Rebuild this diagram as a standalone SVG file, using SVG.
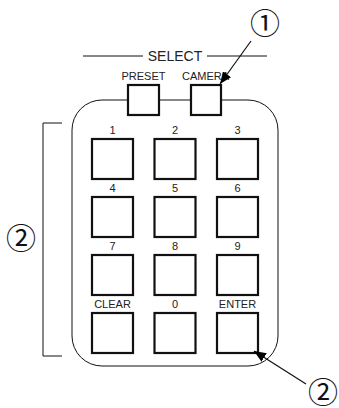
<svg xmlns="http://www.w3.org/2000/svg" width="339" height="408" viewBox="0 0 339 408">
<defs>
<marker id="ah" viewBox="0 0 12 10" refX="12" refY="5" markerWidth="12" markerHeight="10" markerUnits="userSpaceOnUse" orient="auto">
<path d="M0,0 L12,5 L0,10 Z" fill="#000"/>
</marker>
</defs>
<style>
.lbl{font-family:"Liberation Sans",Arial,sans-serif;font-size:11px;fill:#222;text-anchor:middle}
.sel{font-family:"Liberation Sans",Arial,sans-serif;font-size:14px;fill:#222;text-anchor:middle}
.key{fill:#fff;stroke:#111;stroke-width:2.2}
.thin{fill:none;stroke:#111;stroke-width:1}
.circ{font-family:"Noto Sans CJK JP","DejaVu Sans",sans-serif;font-size:30px;fill:#111;text-anchor:middle}
</style>
<rect width="339" height="408" fill="#fff"/>
<g id="panel">
<rect x="72" y="100" width="206" height="266" rx="30" ry="30" class="thin"/>
</g>
<g id="select-header">
<line x1="83" y1="56" x2="143" y2="56" class="thin"/>
<line x1="207" y1="56" x2="267" y2="56" class="thin"/>
<text x="175" y="61" class="sel">SELECT</text>
</g>
<g id="btn-preset">
<text x="143.5" y="80" class="lbl">PRESET</text>
<rect x="128" y="85" width="31" height="30" class="key"/>
</g>
<g id="btn-camera">
<text x="205.5" y="80" class="lbl">CAMERA</text>
<rect x="191" y="85" width="30" height="30" class="key"/>
</g>
<g id="key-1"><text x="112.5" y="134" class="lbl">1</text><rect x="92" y="139" width="41" height="40" class="key"/></g>
<g id="key-2"><text x="175" y="134" class="lbl">2</text><rect x="154.5" y="139" width="41" height="40" class="key"/></g>
<g id="key-3"><text x="237.5" y="134" class="lbl">3</text><rect x="217" y="139" width="41" height="40" class="key"/></g>
<g id="key-4"><text x="112.5" y="192" class="lbl">4</text><rect x="92" y="197" width="41" height="40" class="key"/></g>
<g id="key-5"><text x="175" y="192" class="lbl">5</text><rect x="154.5" y="197" width="41" height="40" class="key"/></g>
<g id="key-6"><text x="237.5" y="192" class="lbl">6</text><rect x="217" y="197" width="41" height="40" class="key"/></g>
<g id="key-7"><text x="112.5" y="250" class="lbl">7</text><rect x="92" y="255" width="41" height="40" class="key"/></g>
<g id="key-8"><text x="175" y="250" class="lbl">8</text><rect x="154.5" y="255" width="41" height="40" class="key"/></g>
<g id="key-9"><text x="237.5" y="250" class="lbl">9</text><rect x="217" y="255" width="41" height="40" class="key"/></g>
<g id="key-clear"><text x="112.5" y="308" class="lbl">CLEAR</text><rect x="92" y="313" width="41" height="40" class="key"/></g>
<g id="key-0"><text x="175" y="308" class="lbl">0</text><rect x="154.5" y="313" width="41" height="40" class="key"/></g>
<g id="key-enter"><text x="237.5" y="308" class="lbl">ENTER</text><rect x="217" y="313" width="41" height="40" class="key"/></g>
<g id="bracket">
<polyline points="62,123 43,123 43,356 62,356" class="thin"/>
</g>
<g id="callout-1"><text x="265" y="34" class="circ">①</text></g>
<g id="callout-2-left"><text x="21" y="249" class="circ">②</text></g>
<g id="callout-2-right"><text x="323" y="403" class="circ">②</text></g>
<g id="connectors">
<line x1="251" y1="41" x2="220" y2="84" stroke="#111" stroke-width="1.2" marker-end="url(#ah)"/>
<line x1="306" y1="384" x2="254" y2="351" stroke="#111" stroke-width="1.2" marker-end="url(#ah)"/>
</g>
</svg>
